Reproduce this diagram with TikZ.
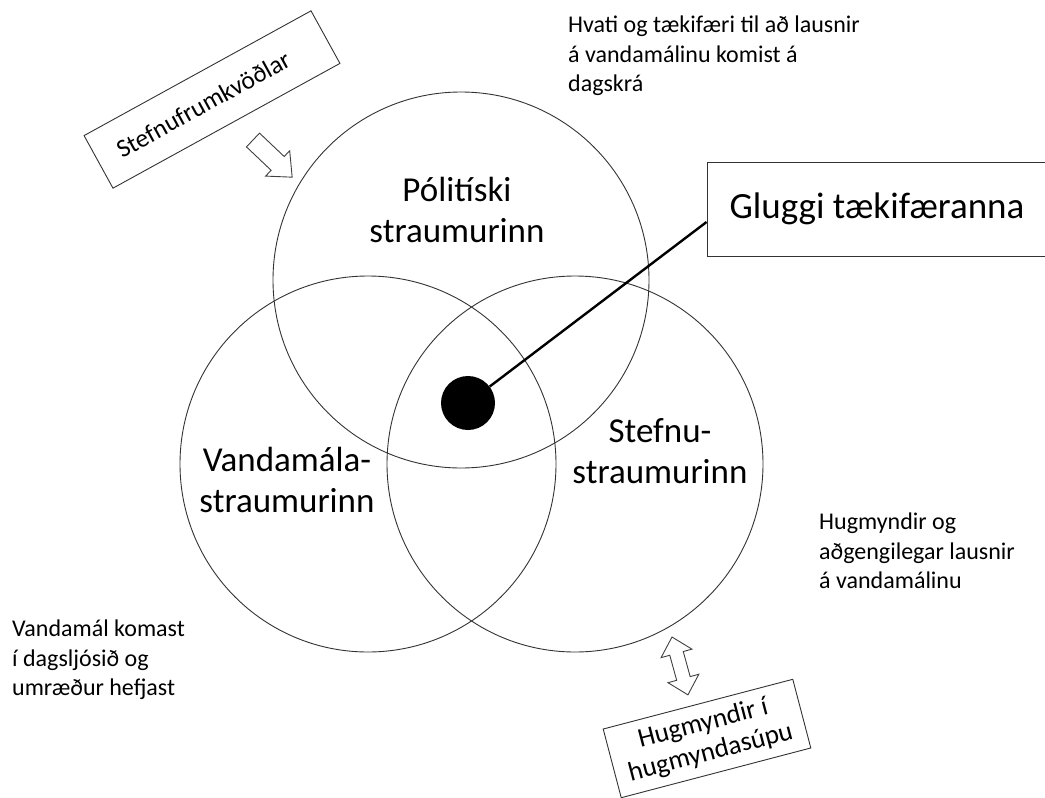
\documentclass[tikz,border=0pt]{standalone}
\usepackage{fontspec}
\setmainfont{Carlito}
\begin{document}
\begin{tikzpicture}[x=1pt,y=-1pt,
  ring/.style={draw=black!80, line width=0.9pt, circle, minimum size=376pt, inner sep=0pt},
  lbl/.style={font=\fontsize{35}{40.5}\selectfont, align=center, inner sep=0pt},
  note/.style={font=\fontsize{24}{29.5}\selectfont, align=left, inner sep=0pt, anchor=north west},
  tagbox/.style={draw=black!80, line width=0.9pt, fill=white, align=center, inner sep=0pt},
  blockarrow/.style={draw=black!75, line width=0.9pt, fill=white, line join=miter}
]
\useasboundingbox (0,0) rectangle (1045,798);
% circles
\node[ring] (pol) at (461,280) {};
\node[ring] (van) at (368,464) {};
\node[ring] (ste) at (575,464) {};
% circle labels
\node[lbl] (polT) at (457,210) {Pólitíski\\straumurinn};
\node[lbl] (vanT) at (287,480) {Vandamála-\\straumurinn};
\node[lbl] (steT) at (660,451) {Stefnu-\\straumurinn};
% notes
\node[note] (hvati) at (568,16) {Hvati og tækifæri til að lausnir\\á vandamálinu komist á\\dagskrá};
\node[note] (vandam) at (12,620) {Vandamál komast\\í dagsljósið og\\umræður hefjast};
\node[note] (hugm) at (819,513) {Hugmyndir og\\aðgengilegar lausnir\\á vandamálinu};
% window
\node[circle, fill=black, minimum size=54pt, inner sep=0pt] (dot) at (468,403) {};
\node[tagbox, font=\fontsize{37}{44}\selectfont, minimum width=340pt, minimum height=94pt] (gluggi) at (877,209) {Gluggi tækifæranna};
\draw[line width=2.4pt] (dot) -- ([yshift=-13pt]gluggi.west);
% tilted boxes
\node[tagbox, rotate=28.8, minimum width=259pt, minimum height=60pt, font=\fontsize{25.5}{30}\selectfont] (sf) at (212,99.5) {\hspace*{-20pt}Stefnufrumkvöðlar};
\node[tagbox, rotate=14.7, minimum width=196pt, minimum height=71pt, font=\fontsize{27}{30}\selectfont] (hug) at (707,738.5) {Hugmyndir í\\hugmyndasúpu};
% block arrows
\begin{scope}[shift={(253,140)}, rotate=-43.5]
\draw[blockarrow] (0pt,9.5pt) -- (34pt,9.5pt) -- (34pt,17.5pt) -- (54pt,0pt) -- (34pt,-17.5pt) -- (34pt,-9.5pt) -- (0pt,-9.5pt) -- cycle;
\end{scope}
\begin{scope}[shift={(672,637)}, rotate=-74.6]
\draw[blockarrow] (0pt,0pt) -- (17pt,16pt) -- (17pt,7pt) -- (43pt,7pt) -- (43pt,16pt) -- (60pt,0pt) -- (43pt,-16pt) -- (43pt,-7pt) -- (17pt,-7pt) -- (17pt,-16pt) -- cycle;
\end{scope}
\end{tikzpicture}
\end{document}
